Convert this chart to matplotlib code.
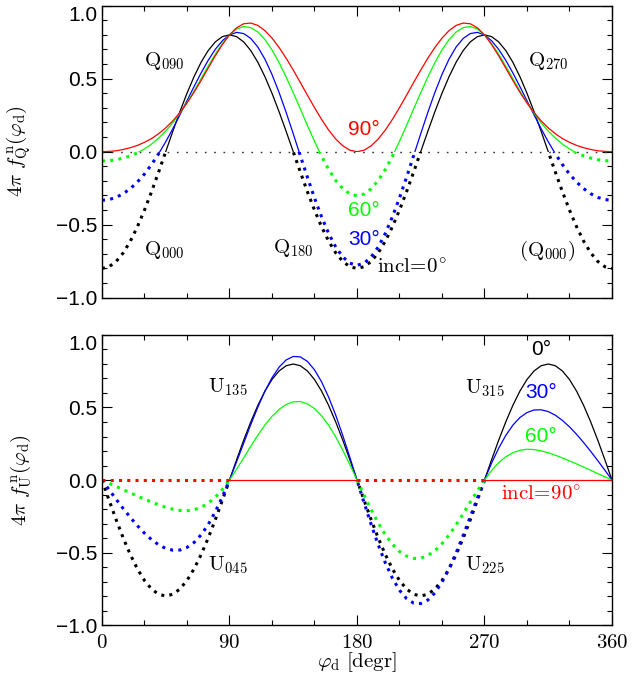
import numpy as np
import matplotlib
matplotlib.use("Agg")
import matplotlib.pyplot as plt
from matplotlib.patches import Rectangle
from matplotlib.ticker import MultipleLocator

plt.rcParams["mathtext.fontset"] = "cm"

# disk azimuth, sampled every 5 degrees
phi = np.arange(0, 361, 5)

# normalized Stokes Q for incl = 0, 30, 60, 90 deg
q_00 = [-0.800, -0.788, -0.752, -0.693, -0.613, -0.514, -0.400, -0.274, -0.139, 0.000,
        0.139, 0.274, 0.400, 0.514, 0.613, 0.693, 0.752, 0.788, 0.800, 0.788,
        0.752, 0.693, 0.613, 0.514, 0.400, 0.274, 0.139, 0.000, -0.139, -0.274,
        -0.400, -0.514, -0.613, -0.693, -0.752, -0.788, -0.800,
        -0.788, -0.752, -0.693, -0.613, -0.514, -0.400, -0.274, -0.139, 0.000, 0.139,
        0.274, 0.400, 0.514, 0.613, 0.693, 0.752, 0.788, 0.800, 0.788, 0.752,
        0.693, 0.613, 0.514, 0.400, 0.274, 0.139, 0.000, -0.139, -0.274, -0.400,
        -0.514, -0.613, -0.693, -0.752, -0.788, -0.800]
q_30 = [-0.333, -0.328, -0.313, -0.288, -0.253, -0.208, -0.153, -0.088, -0.014, 0.068,
        0.157, 0.252, 0.349, 0.446, 0.540, 0.626, 0.701, 0.760, 0.800, 0.817,
        0.809, 0.776, 0.717, 0.634, 0.529, 0.406, 0.269, 0.123, -0.027, -0.175,
        -0.317, -0.446, -0.560, -0.653, -0.721, -0.764, -0.778,
        -0.764, -0.721, -0.653, -0.560, -0.446, -0.317, -0.175, -0.027, 0.123, 0.269,
        0.406, 0.529, 0.634, 0.717, 0.776, 0.809, 0.817, 0.800, 0.760, 0.701,
        0.626, 0.540, 0.446, 0.349, 0.252, 0.157, 0.068, -0.014, -0.088, -0.153,
        -0.208, -0.253, -0.288, -0.313, -0.328, -0.333]
q_60 = [-0.064, -0.062, -0.055, -0.044, -0.029, -0.008, 0.019, 0.052, 0.093, 0.141,
        0.198, 0.263, 0.336, 0.416, 0.501, 0.586, 0.668, 0.741, 0.800, 0.840,
        0.857, 0.850, 0.820, 0.768, 0.697, 0.610, 0.511, 0.404, 0.293, 0.180,
        0.071, -0.031, -0.122, -0.197, -0.254, -0.290, -0.302,
        -0.290, -0.254, -0.197, -0.122, -0.031, 0.071, 0.180, 0.293, 0.404, 0.511,
        0.610, 0.697, 0.768, 0.820, 0.850, 0.857, 0.840, 0.800, 0.741, 0.668,
        0.586, 0.501, 0.416, 0.336, 0.263, 0.198, 0.141, 0.093, 0.052, 0.019,
        -0.008, -0.029, -0.044, -0.055, -0.062, -0.064]
q_90 = [0.000, 0.002, 0.006, 0.015, 0.027, 0.043, 0.064, 0.090, 0.123, 0.163,
        0.211, 0.268, 0.333, 0.407, 0.488, 0.573, 0.657, 0.734, 0.800, 0.848,
        0.876, 0.881, 0.865, 0.829, 0.778, 0.714, 0.640, 0.559, 0.474, 0.387,
        0.302, 0.221, 0.148, 0.087, 0.040, 0.010, 0.000,
        0.010, 0.040, 0.087, 0.148, 0.221, 0.302, 0.387, 0.474, 0.559, 0.640,
        0.714, 0.778, 0.829, 0.865, 0.881, 0.876, 0.848, 0.800, 0.734, 0.657,
        0.573, 0.488, 0.407, 0.333, 0.268, 0.211, 0.163, 0.123, 0.090, 0.064,
        0.043, 0.027, 0.015, 0.006, 0.002, 0.000]

# normalized Stokes U for the same inclinations
u_00 = [0.000, -0.139, -0.274, -0.400, -0.514, -0.613, -0.693, -0.752, -0.788, -0.800,
        -0.788, -0.752, -0.693, -0.613, -0.514, -0.400, -0.274, -0.139, 0.000, 0.139,
        0.274, 0.400, 0.514, 0.613, 0.693, 0.752, 0.788, 0.800, 0.788, 0.752,
        0.693, 0.613, 0.514, 0.400, 0.274, 0.139, 0.000,
        -0.139, -0.274, -0.400, -0.514, -0.613, -0.693, -0.752, -0.788, -0.800, -0.788,
        -0.752, -0.693, -0.613, -0.514, -0.400, -0.274, -0.139, 0.000, 0.139, 0.274,
        0.400, 0.514, 0.613, 0.693, 0.752, 0.788, 0.800, 0.788, 0.752, 0.693,
        0.613, 0.514, 0.400, 0.274, 0.139, 0.000]
u_30 = [0.000, -0.067, -0.133, -0.197, -0.258, -0.315, -0.367, -0.411, -0.447, -0.472,
        -0.484, -0.483, -0.465, -0.431, -0.378, -0.307, -0.219, -0.116, 0.000, 0.125,
        0.253, 0.381, 0.502, 0.612, 0.705, 0.778, 0.828, 0.852, 0.849, 0.818,
        0.760, 0.677, 0.571, 0.447, 0.306, 0.156, 0.000,
        -0.156, -0.306, -0.447, -0.571, -0.677, -0.760, -0.818, -0.849, -0.852, -0.828,
        -0.778, -0.705, -0.612, -0.502, -0.381, -0.253, -0.125, 0.000, 0.116, 0.219,
        0.307, 0.378, 0.431, 0.465, 0.483, 0.484, 0.472, 0.447, 0.411, 0.367,
        0.315, 0.258, 0.197, 0.133, 0.067, 0.000]
u_60 = [0.000, -0.022, -0.044, -0.067, -0.089, -0.111, -0.132, -0.152, -0.171, -0.188,
        -0.201, -0.210, -0.212, -0.205, -0.188, -0.160, -0.119, -0.065, 0.000, 0.074,
        0.152, 0.232, 0.309, 0.379, 0.439, 0.487, 0.521, 0.539, 0.541, 0.525,
        0.493, 0.443, 0.377, 0.297, 0.205, 0.105, 0.000,
        -0.105, -0.205, -0.297, -0.377, -0.443, -0.493, -0.525, -0.541, -0.539, -0.521,
        -0.487, -0.439, -0.379, -0.309, -0.232, -0.152, -0.074, 0.000, 0.065, 0.119,
        0.160, 0.188, 0.205, 0.212, 0.210, 0.201, 0.188, 0.171, 0.152, 0.132,
        0.111, 0.089, 0.067, 0.044, 0.022, 0.000]
u_90 = [0.0] * 73

incl = [0, 30, 60, 90]
colors = ["black", "blue", "#00ff00", "red"]
q_curves = [q_00, q_30, q_60, q_90]
u_curves = [u_00, u_30, u_60]

fig = plt.figure(figsize=(6.33, 6.91), dpi=100)
ax1 = fig.add_axes([0.1611, 0.5692, 0.8057, 0.4226])
ax2 = fig.add_axes([0.1611, 0.0955, 0.8057, 0.4197])

DOTS = (0, (1, 1.7))


def curve(ax, y, color):
    # thin solid where positive, heavy dots where negative
    y = np.asarray(y)
    ln, = ax.plot(phi, y, color=color, lw=0.9)
    ln.set_clip_path(Rectangle((0, 0), 360, 2, transform=ax.transData))
    if (y < -1e-3).any():
        dt, = ax.plot(phi, y, color=color, lw=2.2, linestyle=DOTS,
                      dash_capstyle="butt")
        dt.set_clip_path(Rectangle((0, -2), 360, 2, transform=ax.transData))


ax1.plot([0, 360], [0, 0], color="#333333", lw=1.0, linestyle=(0, (1.2, 5.5)))
for y, col in zip(q_curves, colors):
    curve(ax1, y, col)
for y, col in zip(u_curves, colors[:3]):
    curve(ax2, y, col)

# edge-on case: U vanishes, dotted in the quadrants where U < 0 otherwise
u90 = np.asarray(u_90)
for a, b, dotted in [(0, 90, True), (90, 180, False), (180, 270, True), (270, 360, False)]:
    m = (phi >= a) & (phi <= b)
    if dotted:
        ax2.plot(phi[m], u90[m], color="red", lw=2.2, linestyle=DOTS,
                 dash_capstyle="butt")
    else:
        ax2.plot(phi[m], u90[m], color="red", lw=0.9)

for ax in (ax1, ax2):
    ax.set_xlim(0, 360)
    ax.set_ylim(-1.0, 1.0)
    ax.xaxis.set_major_locator(MultipleLocator(90))
    ax.xaxis.set_minor_locator(MultipleLocator(30))
    ax.yaxis.set_minor_locator(MultipleLocator(0.1))
    ax.tick_params(which="both", direction="in", top=True, right=True, width=0.8)
    ax.tick_params(which="major", length=7)
    ax.tick_params(which="minor", length=3.5)
    ax.set_yticks([-1.0, -0.5, 0.0, 0.5, 1.0])
    labels = ax.set_yticklabels(["\u22121.0", "\u22120.5", "0.0", "0.5", "1.0"],
                                family="Liberation Sans", fontsize=15)
    labels[-1].set_va("top")
    ax.yaxis.set_label_coords(-0.135, 0.5)
    for s in ax.spines.values():
        s.set_linewidth(1.0)
ax1.set_xticklabels([])
ax2.set_xticks([0, 90, 180, 270, 360])
ax2.set_xticklabels([r"$0$", r"$90$", r"$180$", r"$270$", r"$360$"], fontsize=15)
ax2.tick_params(axis="x", pad=5)

ax1.set_ylabel(r"$4\pi\ f^{\,\mathrm{n}}_{\mathrm{Q}}(\varphi_{\mathrm{d}})$", fontsize=15)
ax2.set_ylabel(r"$4\pi\ f^{\,\mathrm{n}}_{\mathrm{U}}(\varphi_{\mathrm{d}})$", fontsize=15)
ax2.set_xlabel(r"$\varphi_{\mathrm{d}}\ [\mathrm{degr}]$", fontsize=15, labelpad=-1)

kw = dict(ha="center", va="center", fontsize=15)
sk = dict(ha="center", va="center", fontsize=15, family="Liberation Sans")

ax1.text(44, 0.62, r"$\mathrm{Q}_{090}$", **kw)
ax1.text(315, 0.62, r"$\mathrm{Q}_{270}$", **kw)
ax1.text(44, -0.67, r"$\mathrm{Q}_{000}$", **kw)
ax1.text(135, -0.66, r"$\mathrm{Q}_{180}$", **kw)
ax1.text(314, -0.68, r"$(\mathrm{Q}_{000})$", **kw)
ax1.text(185, 0.153, "90°", color="red", **sk)
ax1.text(185, -0.40, "60°", color="#00ff00", **sk)
ax1.text(185, -0.60, "30°", color="blue", **sk)
ax1.text(219, -0.79, r"$\mathrm{incl}\!=\!0^{\circ}$", **kw)

ax2.text(89, 0.64, r"$\mathrm{U}_{135}$", **kw)
ax2.text(89, -0.59, r"$\mathrm{U}_{045}$", **kw)
ax2.text(270, 0.63, r"$\mathrm{U}_{315}$", **kw)
ax2.text(270, -0.59, r"$\mathrm{U}_{225}$", **kw)
ax2.text(310, 0.90, "0°", color="black", **sk)
ax2.text(310, 0.60, "30°", color="blue", **sk)
ax2.text(310, 0.30, "60°", color="#00ff00", **sk)
ax2.text(310, -0.10, r"$\mathrm{incl}\!=\!90^{\circ}$", color="red", **kw)

fig.savefig("out.png", dpi=100)
